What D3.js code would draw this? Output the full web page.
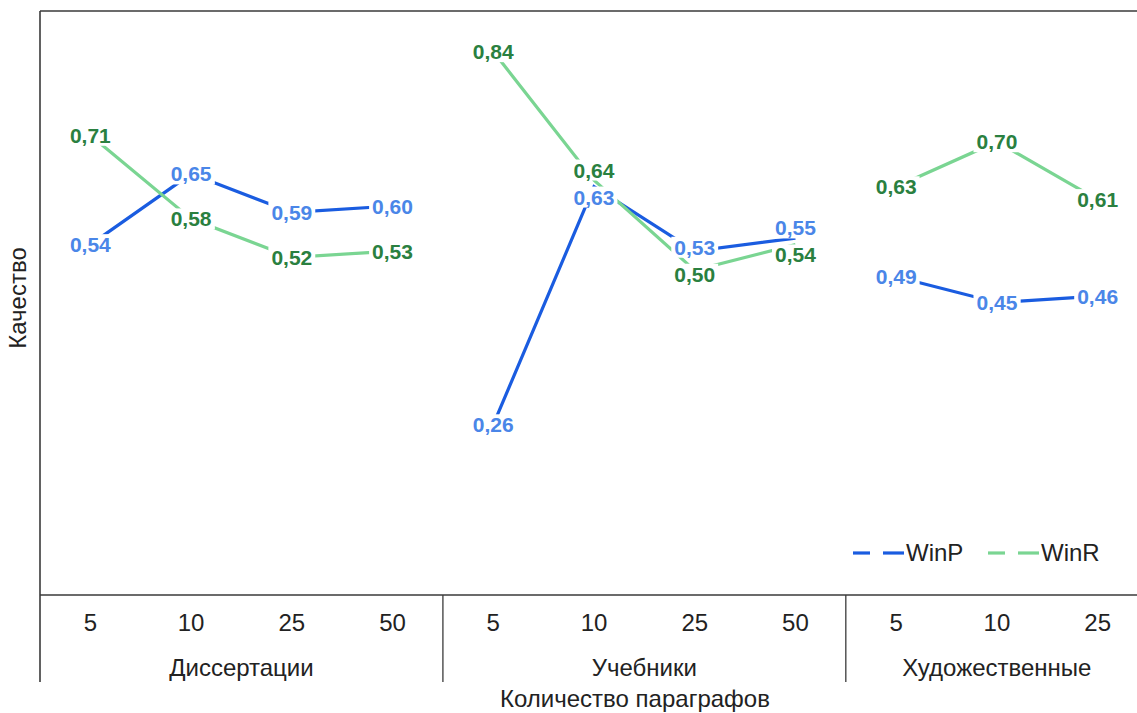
<!DOCTYPE html>
<html><head><meta charset="utf-8">
<script src="https://cdn.jsdelivr.net/npm/d3@7"></script>
<style>
html,body{margin:0;padding:0;background:#fff;}
text{font-family:"Liberation Sans",Arial,sans-serif;}
</style></head>
<body><svg id="c" width="1137" height="713"></svg>
<script>
const categories = ["5","10","25","50","5","10","25","50","5","10","25"];
const groups = ["Диссертации","Учебники","Художественные"];
const groupSizes = [4,4,3];
const winP = [0.54,0.65,0.59,0.60,0.26,0.63,0.53,0.55,0.49,0.45,0.46];
const winR = [0.71,0.58,0.52,0.53,0.84,0.64,0.50,0.54,0.63,0.70,0.61];
const seriesNames = ["WinP","WinR"];
const lineColors = ["#1a5ce0","#7ad592"];
const labelColors = ["#4a86e8","#2a8040"];

(function(){
const svg = d3.select("#c");
const W = 1137, mLeft = 40, mTop = 11, mBottom = 595;
const fs = 24;
const x = d3.scaleBand().domain(d3.range(categories.length)).range([mLeft, 1148]).padding(0);
const y = d3.scaleLinear().domain([0, 0.9]).range([592, 13]);
const cx = i => x(i) + x.bandwidth()/2;

const groupStart = [0]; groupSizes.forEach((n,g)=>groupStart.push(groupStart[g]+n));

// frame
const axisColor = "#3a3a3a";
svg.append("line").attr("x1",mLeft).attr("x2",W).attr("y1",mTop).attr("y2",mTop).attr("stroke",axisColor).attr("stroke-width",1.6);
svg.append("line").attr("x1",mLeft).attr("x2",mLeft).attr("y1",mTop).attr("y2",682).attr("stroke",axisColor).attr("stroke-width",1.6);
svg.append("line").attr("x1",mLeft).attr("x2",W).attr("y1",mBottom).attr("y2",mBottom).attr("stroke",axisColor).attr("stroke-width",1.6);
groupStart.slice(1, groups.length).forEach(s=>{
  const xx = x(s);
  svg.append("line").attr("x1",xx).attr("x2",xx).attr("y1",mBottom).attr("y2",682).attr("stroke",axisColor).attr("stroke-width",1.3);
});

// tick labels
svg.append("g").selectAll("text").data(categories).join("text")
  .attr("x",(d,i)=>cx(i)).attr("y",623).attr("dy","0.35em")
  .attr("text-anchor","middle").attr("font-size",fs).attr("fill","#222").text(d=>d);
groups.forEach((g,gi)=>{
  const a = x(groupStart[gi]), b = x(groupStart[gi+1]-1)+x.bandwidth();
  svg.append("text").attr("x",(a+b)/2).attr("y",668).attr("dy","0.35em")
    .attr("text-anchor","middle").attr("font-size",fs).attr("fill","#222").text(g);
});
svg.append("text").attr("x",635).attr("y",699).attr("dy","0.35em").attr("text-anchor","middle")
  .attr("font-size",fs).attr("fill","#222").text("Количество параграфов");
svg.append("text").attr("transform","translate(18,298) rotate(-90)").attr("dy","0.35em")
  .attr("text-anchor","middle").attr("font-size",fs).attr("fill","#222").text("Качество");

// lines
const allSeries = [winP, winR];
const line = d3.line().x(d=>cx(d.i)).y(d=>y(d.v));
allSeries.forEach((s,si)=>{
  groupSizes.forEach((n,g)=>{
    const pts = d3.range(groupStart[g], groupStart[g+1]).map(i=>({i, v:s[i]}));
    svg.append("path").attr("d",line(pts)).attr("fill","none")
      .attr("stroke",lineColors[si]).attr("stroke-width",3.2).attr("stroke-linecap","butt");
  });
});

// labels with simple collision spreading
const minGap = 27;
const labelY = allSeries.map(s=>s.map(v=>y(v)));
for(let i=0;i<categories.length;i++){
  const a = labelY[0][i], b = labelY[1][i];
  if(Math.abs(a-b) < minGap){
    const m = (a+b)/2, sgn = a<b?-1:1;
    labelY[0][i] = m + sgn*minGap/2;
    labelY[1][i] = m - sgn*minGap/2;
  }
}
const bgLayer = svg.append("g");
const txLayer = svg.append("g");
allSeries.forEach((s,si)=>{
  txLayer.append("g").selectAll("text").data(s).join("text")
    .attr("x",(d,i)=>cx(i)).attr("y",(d,i)=>labelY[si][i]).attr("dy","0.36em")
    .attr("text-anchor","middle").attr("font-size",21).attr("font-weight","bold")
    .attr("fill",labelColors[si])
    .text(d=>d.toFixed(2).replace(".",","))
    .each(function(){
      const b = this.getBBox();
      bgLayer.append("rect").attr("x",b.x-3).attr("y",b.y+1).attr("width",b.width+6).attr("height",b.height-2).attr("fill","#fff");
    });
});

// legend
const legX = [853, 988];
seriesNames.forEach((n,si)=>{
  const x0 = legX[si];
  svg.append("line").attr("x1",x0).attr("x2",x0+17).attr("y1",553).attr("y2",553)
    .attr("stroke",lineColors[si]).attr("stroke-width",3.2);
  svg.append("line").attr("x1",x0+30).attr("x2",x0+51).attr("y1",553).attr("y2",553)
    .attr("stroke",lineColors[si]).attr("stroke-width",3.2);
  svg.append("text").attr("x",x0+53).attr("y",553).attr("dy","0.35em")
    .attr("font-size",fs).attr("fill","#222").text(n);
});
})();
</script></body></html>
